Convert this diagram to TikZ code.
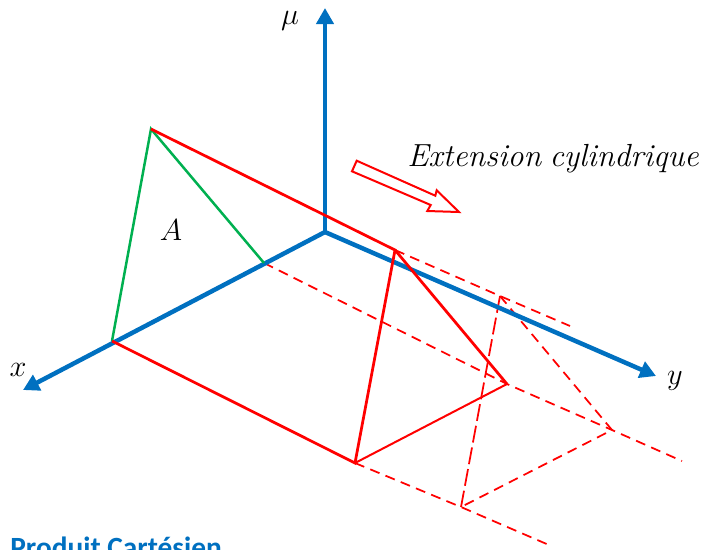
\documentclass[tikz,border=0pt]{standalone}
\usepackage{fontspec}
\usepackage{amsmath}
\usepackage{xcolor}
\usetikzlibrary{arrows.meta}
\newfontfamily\labelfont{Carlito}
\definecolor{axisblue}{HTML}{0070C0}
\definecolor{setgreen}{HTML}{00B050}
\definecolor{cylred}{HTML}{FF0000}
\tikzset{
  axis/.style={axisblue, line width=0.09cm, -{Triangle[length=0.32cm,width=0.34cm]}},
  setline/.style={setgreen, line width=0.05cm},
  solidline/.style={cylred, line width=0.055cm},
  thinline/.style={cylred, line width=0.04cm},
  dashline/.style={cylred, line width=0.035cm, dash pattern=on 0.2cm off 0.13cm},
  longdash/.style={cylred, line width=0.035cm, dash pattern=on 0.34cm off 0.1cm},
  mathlabel/.style={inner sep=0pt, font=\fontsize{16}{18}\selectfont},
}
\begin{document}
\begin{tikzpicture}[x=0.02cm, y=-0.02cm]

\useasboundingbox (0,0) rectangle (702,549);

% points of the base and of the section
\coordinate (O) at (325,232);
\coordinate (muend) at (325,8);
\coordinate (xend) at (23,390);
\coordinate (yend) at (656,376);
\coordinate (apex) at (151,129);
\coordinate (footx) at (112,341);
\coordinate (footm) at (264,263);
\coordinate (topa) at (395,250);
\coordinate (lowa) at (355,463);
\coordinate (mida) at (507,384);
\coordinate (topb) at (500,296);
\coordinate (lowb) at (461,507);
\coordinate (midb) at (612,430);
\coordinate (topend) at (570,326);
\coordinate (midend) at (682,461);
\coordinate (lowend) at (549,545);

% Dashed continuation
\draw[dashline] (footm) -- (mida) -- (midb) -- (midend);
\draw[dashline] (topa) -- (topb) -- (topend);
\draw[dashline] (lowa) -- (lowb) -- (lowend);
\draw[dashline] (topb) -- (midb) -- (lowb);
\draw[longdash] (topb) -- (lowb);

% Axes
\draw[axis] (O) -- (muend);
\draw[axis] (O) -- (xend);
\draw[axis] (O) -- (yend);

% Set A
\draw[setline] (footx) -- (apex) -- (footm);

% Extension
\draw[solidline] (apex) -- (topa) -- (lowa) -- (footx);
\draw[solidline] (topa) -- (mida);
\draw[thinline] (mida) -- (lowa);

% Direction arrow
\draw[thinline] (356.7,160.7) -- (435.3,195.7) -- (436.7,190.3) -- (459,212)
  -- (427.3,211) -- (430.7,205) -- (352,171.3) -- cycle;

% Labels
\node[mathlabel] (mulabel) at (290,21) {$\mu$};
\node[mathlabel] (xlabel) at (18,370) {$x$};
\node[mathlabel] (ylabel) at (675,381) {$y$};
\node[mathlabel] (setlabel) at (171,230) {$A$};
\node[mathlabel, font=\fontsize{18.2}{20}\selectfont] (extlabel) at (553,159) {$\mathit{Extension}\;\mathit{cylindrique}$};
\node[inner sep=0pt, anchor=base west, text=axisblue, font=\labelfont\bfseries\fontsize{16.7}{18}\selectfont] (title) at (10,557.5) {Produit Cartésien};

\end{tikzpicture}
\end{document}
